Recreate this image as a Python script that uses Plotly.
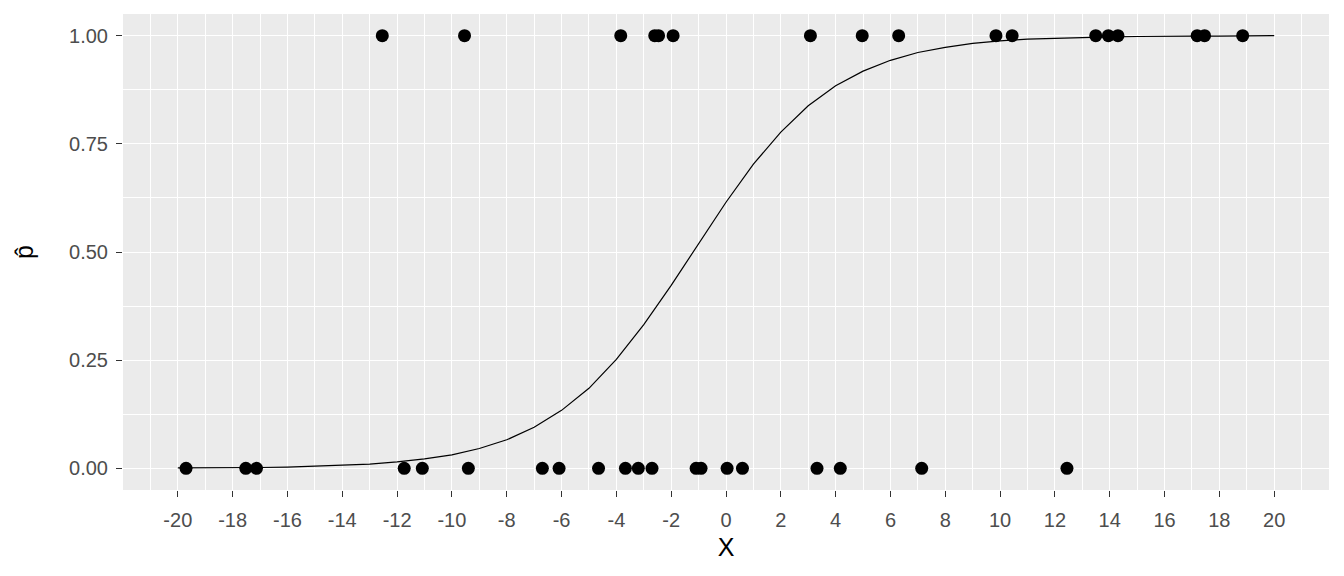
import plotly.graph_objects as go

x_success = [-12.54, -9.54, -3.84, -2.60, -2.46, -1.93, 3.08, 4.97, 6.30, 9.85,
             10.44, 13.49, 13.95, 14.30, 17.19, 17.46, 18.85]
x_failure = [-19.70, -17.52, -17.13, -11.74, -11.08, -9.40, -6.70, -6.09, -4.65,
             -3.67, -3.20, -2.70, -1.09, -0.91, 0.04, 0.60, 3.32, 4.17, 7.14, 12.44]

# Fitted probability curve
curve_x = list(range(-20, 21))
curve_p = [0.001, 0.001, 0.001, 0.002, 0.003, 0.005, 0.007, 0.010, 0.015, 0.022,
           0.031, 0.046, 0.066, 0.095, 0.134, 0.185, 0.252, 0.332, 0.423, 0.520,
           0.615, 0.703, 0.777, 0.838, 0.884, 0.918, 0.943, 0.961, 0.973, 0.982,
           0.988, 0.992, 0.994, 0.996, 0.997, 0.998, 0.999, 0.999, 0.999, 1.000, 1.000]

x_ticks = list(range(-20, 21, 2))
y_ticks = [0.0, 0.25, 0.5, 0.75, 1.0]
y_labels = ["0.00", "0.25", "0.50", "0.75", "1.00"]

fig = go.Figure()
fig.add_trace(go.Scatter(x=curve_x, y=curve_p, mode="lines",
                         line=dict(color="black", width=1.2), hoverinfo="skip"))
fig.add_trace(go.Scatter(x=x_success, y=[1] * len(x_success), mode="markers",
                         marker=dict(color="black", size=13)))
fig.add_trace(go.Scatter(x=x_failure, y=[0] * len(x_failure), mode="markers",
                         marker=dict(color="black", size=13)))

# page body has an 8px margin, so the figure is sized/offset accordingly
fig.update_layout(
    width=1336, height=568,
    margin=dict(l=115, r=15, t=6, b=86, autoexpand=False),
    paper_bgcolor="white", plot_bgcolor="#EBEBEB",
    showlegend=False,
    font=dict(family="Liberation Sans, Arial, sans-serif", size=20, color="#4D4D4D"),
)
fig.update_xaxes(
    range=[-22, 22], tickvals=x_ticks, ticktext=[str(v) for v in x_ticks],
    showgrid=True, gridcolor="white", gridwidth=1.4,
    minor=dict(dtick=1, tick0=-21, showgrid=True, gridcolor="white", gridwidth=0.7),
    ticks="outside", ticklen=6, tickcolor="#333333", tickwidth=1.2,
    ticklabelstandoff=6,
    zeroline=False, showline=False, automargin=False,
    tickfont=dict(size=20, color="#4D4D4D"),
    title=dict(text="X", font=dict(size=25, color="black"), standoff=8),
)
fig.update_yaxes(
    range=[-0.05, 1.05], tickvals=y_ticks, ticktext=y_labels,
    showgrid=True, gridcolor="white", gridwidth=1.4,
    minor=dict(dtick=0.25, tick0=0.125, showgrid=True, gridcolor="white", gridwidth=0.7),
    ticks="outside", ticklen=6, tickcolor="#333333", tickwidth=1.2,
    ticklabelstandoff=4,
    zeroline=False, showline=False, automargin=False,
    tickfont=dict(size=20, color="#4D4D4D"),
    title=dict(text="p\u0302", font=dict(size=25, color="black"), standoff=28),
)

fig.write_html("out.html")
